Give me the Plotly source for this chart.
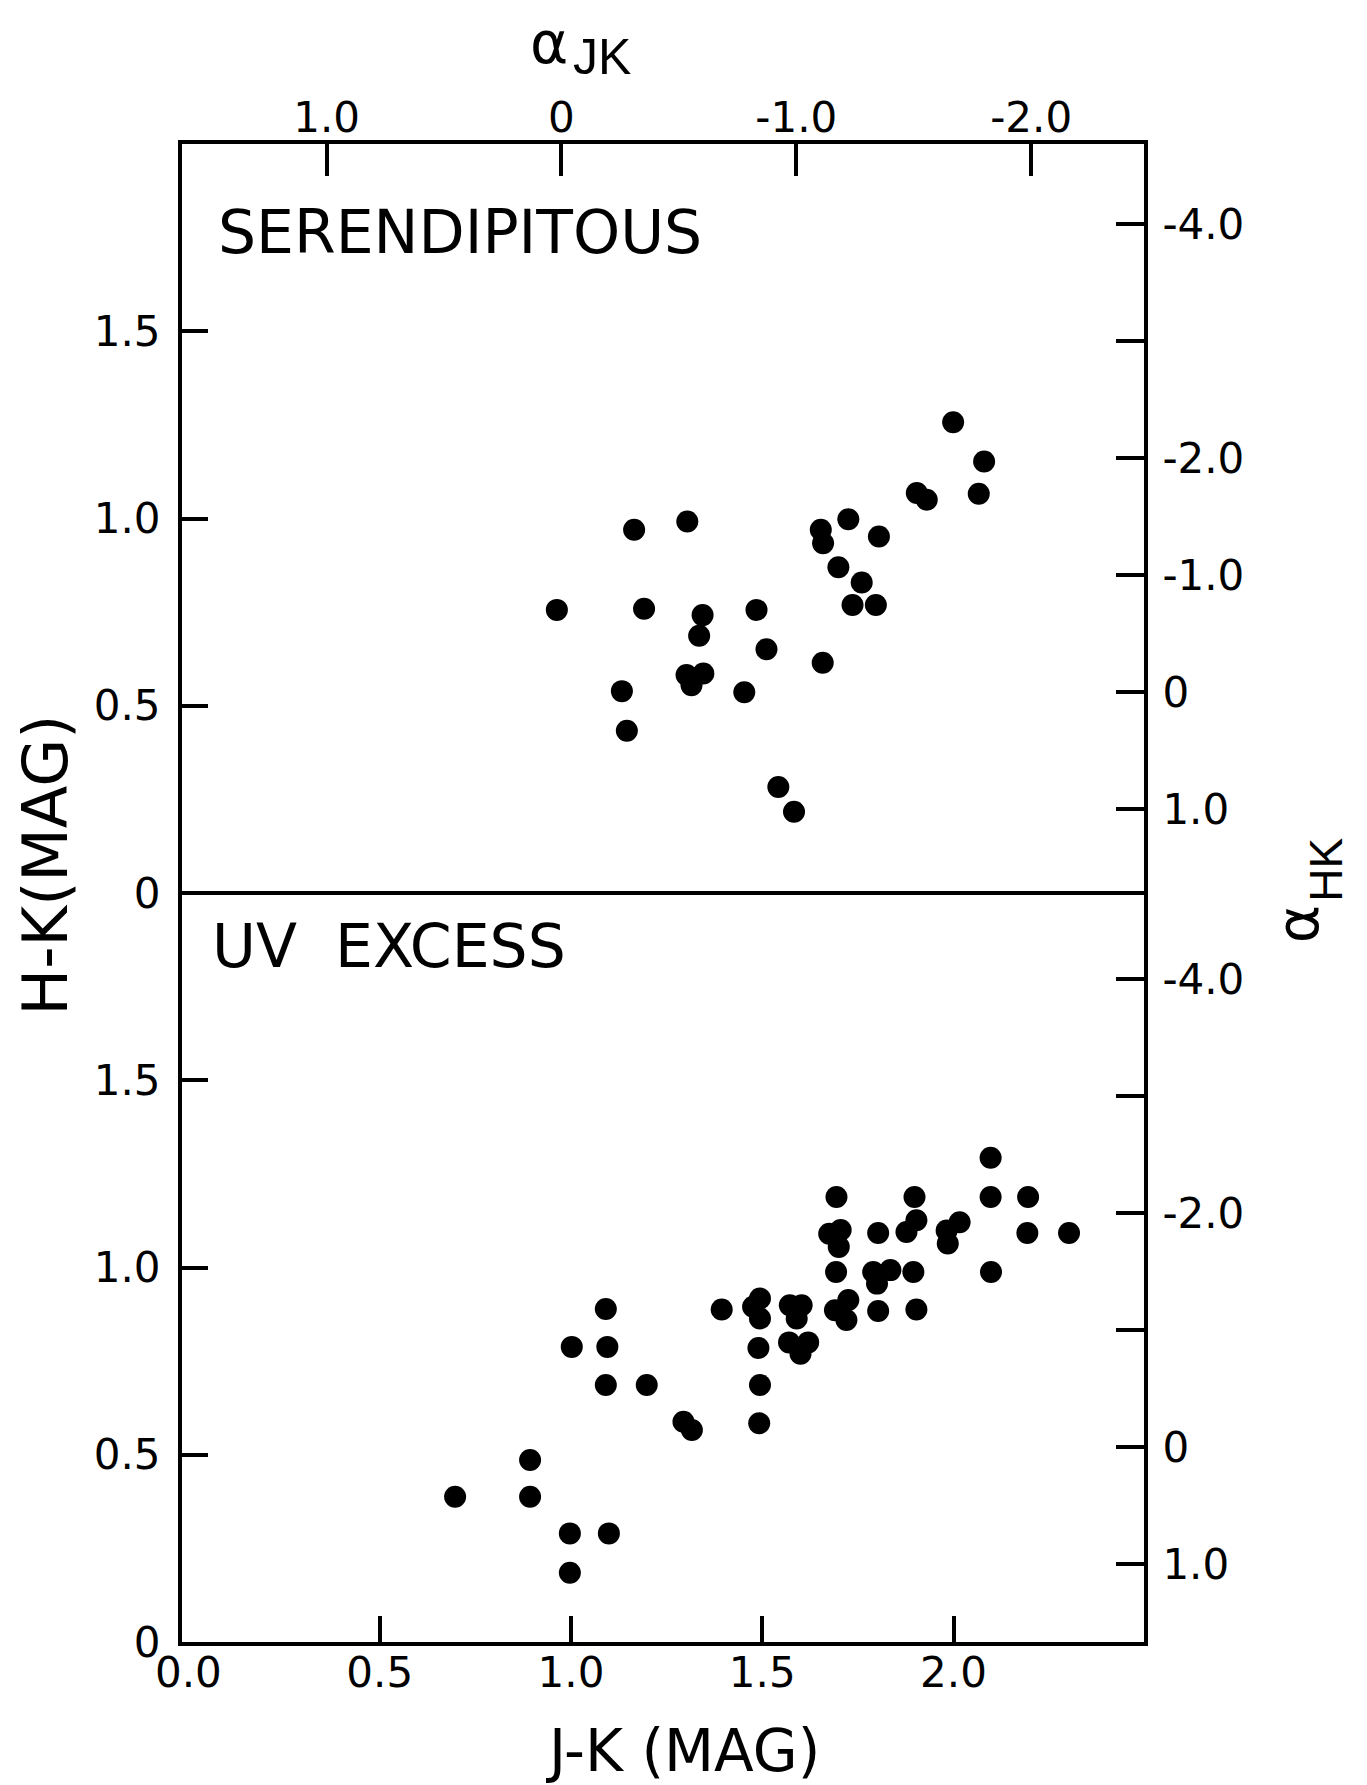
import plotly.graph_objects as go

# ---------------- data ----------------
# SERENDIPITOUS panel (J-K, H-K)
ser_jk = [0.963, 1.165, 1.191, 1.304, 1.133, 1.146, 1.344, 1.335, 1.302, 1.346,
          1.315, 1.485, 1.511, 1.453, 1.542, 1.583, 1.658, 1.653, 1.659, 1.725,
          1.699, 1.760, 1.805, 1.736, 1.797, 1.904, 1.930, 1.999, 2.080, 2.066]
ser_hk = [0.756, 0.970, 0.759, 0.992, 0.539, 0.433, 0.742, 0.687, 0.582, 0.586,
          0.555, 0.756, 0.651, 0.536, 0.283, 0.217, 0.615, 0.970, 0.934, 0.998,
          0.870, 0.829, 0.952, 0.769, 0.769, 1.068, 1.050, 1.257, 1.152, 1.066]

# UV EXCESS panel (J-K, H-K)
uv_jk = [0.697, 0.893, 0.893, 0.997, 1.099, 0.997, 1.091, 1.002, 1.095, 1.091,
         1.198, 1.294, 1.316, 1.394, 1.492, 1.494, 1.490, 1.476, 1.494, 1.494,
         1.572, 1.603, 1.590, 1.570, 1.600, 1.620, 1.690, 1.725, 1.720, 1.803,
         1.903, 1.693, 1.790, 1.835, 1.800, 1.895, 2.098, 1.694, 1.675, 1.705,
         1.700, 1.803, 1.877, 1.903, 1.898, 1.982, 2.016, 1.985, 2.097, 2.097,
         2.195, 2.193, 2.302]
uv_hk = [0.388, 0.486, 0.388, 0.290, 0.290, 0.185, 0.889, 0.788, 0.788, 0.686,
         0.686, 0.588, 0.566, 0.888, 0.584, 0.686, 0.785, 0.895, 0.917, 0.864,
         0.899, 0.899, 0.864, 0.800, 0.770, 0.800, 0.886, 0.913, 0.860, 0.884,
         0.888, 0.988, 0.988, 0.993, 0.957, 0.988, 0.988, 1.188, 1.090, 1.100,
         1.055, 1.092, 1.095, 1.126, 1.188, 1.099, 1.121, 1.064, 1.293, 1.188,
         1.188, 1.092, 1.092]

# axis tick values / labels
x_ticks = [0.5, 1.0, 1.5, 2.0]
x_ticklabels = ["0.5", "1.0", "1.5", "2.0"]
x_origin_label = "0.0"
y_ticks = [0.0, 0.5, 1.0, 1.5]
y_ticklabels = ["0", "0.5", "1.0", "1.5"]
ajk_ticks = [1.0, 0.0, -1.0, -2.0]
ajk_ticklabels = ["1.0", "0", "-1.0", "-2.0"]
ahk_top_ticks = [-4.0, -2.0, -1.0, 0.0, 1.0]
ahk_top_labels = ["-4.0", "-2.0", "-1.0", "0", "1.0"]
ahk_top_minor = [-3.0]
ahk_bot_ticks = [-4.0, -2.0, 0.0, 1.0]
ahk_bot_labels = ["-4.0", "-2.0", "0", "1.0"]
ahk_bot_minor = [-3.0, -1.0]

# colour-index relations (power law), J-K = c - 0.614 a ; H-K = c - 0.3124 a
JK_ZERO, JK_SLOPE = 0.975, 0.614
HK_ZERO_TOP, HK_ZERO_BOT, HK_SLOPE = 0.536, 0.520, 0.3124

X_RANGE = [-0.017, 2.498]
Y_RANGE = [0.0, 2.0]

FONT = "DejaVu Sans"
INK = "black"


def ajk(jk):
    return (JK_ZERO - jk) / JK_SLOPE


def ahk(hk, zero):
    return (zero - hk) / HK_SLOPE


fig = go.Figure()

marker = dict(color=INK, size=22, line=dict(width=0))
fig.add_trace(go.Scatter(x=ser_jk, y=ser_hk, mode="markers", marker=marker,
                         xaxis="x", yaxis="y2", showlegend=False, hoverinfo="skip"))
fig.add_trace(go.Scatter(x=uv_jk, y=uv_hk, mode="markers", marker=marker,
                         xaxis="x", yaxis="y", showlegend=False, hoverinfo="skip"))
# empty traces to register the secondary axes
fig.add_trace(go.Scatter(x=[], y=[], xaxis="x3", yaxis="y2", showlegend=False))
fig.add_trace(go.Scatter(x=[], y=[], xaxis="x", yaxis="y3", showlegend=False))
fig.add_trace(go.Scatter(x=[], y=[], xaxis="x", yaxis="y4", showlegend=False))

tickfont = dict(family=FONT, size=42, color=INK)
common = dict(showgrid=False, zeroline=False, showline=True, linecolor=INK,
              linewidth=4, ticks="inside", tickcolor=INK, tickwidth=4,
              tickfont=tickfont, tickmode="array")


def minor(vals, length):
    return dict(tickmode="array", tickvals=vals, ticks="inside", ticklen=length,
                tickwidth=4, tickcolor=INK, showgrid=False)


# the page body has an 8 px margin: plot area lands at x 182..1144, y 144..1642
fig.update_layout(
    width=1367, height=1785, autosize=False,
    margin=dict(l=174, r=231, t=136, b=151, pad=0),
    paper_bgcolor="white", plot_bgcolor="white",
    font=dict(family=FONT, color=INK),
    xaxis=dict(domain=[0, 1], anchor="y", range=X_RANGE, tickvals=x_ticks,
               ticktext=x_ticklabels, ticklen=26, ticklabelstandoff=-9, **common),
    yaxis=dict(domain=[0, 0.5], anchor="x", range=Y_RANGE, tickvals=y_ticks,
               ticktext=y_ticklabels, ticklen=26, ticklabelstandoff=9, **common),
    yaxis2=dict(domain=[0.5, 1], anchor="x", range=Y_RANGE, tickvals=y_ticks,
                ticktext=y_ticklabels, ticklen=26, ticklabelstandoff=9, **common),
    xaxis3=dict(overlaying="x", anchor="y2", side="top",
                range=[ajk(X_RANGE[0]), ajk(X_RANGE[1])], tickvals=ajk_ticks,
                ticktext=ajk_ticklabels, ticklen=32, ticklabelstandoff=-9, **common),
    yaxis3=dict(overlaying="y2", anchor="x", side="right",
                range=[ahk(Y_RANGE[0], HK_ZERO_TOP), ahk(Y_RANGE[1], HK_ZERO_TOP)],
                tickvals=ahk_top_ticks, ticktext=ahk_top_labels, ticklen=28,
                ticklabelstandoff=6, minor=minor(ahk_top_minor, 28), **common),
    yaxis4=dict(overlaying="y", anchor="x", side="right",
                range=[ahk(Y_RANGE[0], HK_ZERO_BOT), ahk(Y_RANGE[1], HK_ZERO_BOT)],
                tickvals=ahk_bot_ticks, ticktext=ahk_bot_labels, ticklen=28,
                ticklabelstandoff=6, minor=minor(ahk_bot_minor, 28), **common),
)

# divider between the two panels
fig.add_shape(type="line", xref="paper", yref="paper", x0=0, x1=1, y0=0.5, y1=0.5,
              line=dict(color=INK, width=4))

# "0.0" label at the origin of the J-K axis
fig.add_annotation(text=x_origin_label, xref="x", yref="paper", x=0.0, y=-0.0205,
                   xanchor="center", yanchor="middle", showarrow=False, font=tickfont)

big = dict(family=FONT, size=60, color=INK)
fig.add_annotation(text="SERENDIPITOUS", xref="paper", yref="paper", x=0.035, y=0.9415,
                   xanchor="left", yanchor="middle", showarrow=False, font=big)
fig.add_annotation(text="UV  EXCESS", xref="paper", yref="paper", x=0.029, y=0.4646,
                   xanchor="left", yanchor="middle", showarrow=False, font=big)
fig.add_annotation(text="J-K (MAG)", xref="paper", yref="paper", x=0.521, y=-0.0728,
                   xanchor="center", yanchor="middle", showarrow=False,
                   font=dict(family=FONT, size=58, color=INK))
fig.add_annotation(text="H-K(MAG)", xref="paper", yref="paper", x=-0.1419, y=0.5187,
                   xanchor="center", yanchor="middle", showarrow=False,
                   font=dict(family=FONT, size=62, color=INK), textangle=-90)
# alpha_JK (top axis title)
fig.add_annotation(text="α", xref="paper", yref="paper", x=0.3815, y=1.0674,
                   xanchor="center", yanchor="middle", showarrow=False,
                   font=dict(family=FONT, size=58, color=INK))
fig.add_annotation(text="JK", xref="paper", yref="paper", x=0.4040, y=1.0581,
                   xanchor="left", yanchor="middle", showarrow=False,
                   font=dict(family="Liberation Sans", size=50, color=INK))
# alpha_HK (right axis title)
fig.add_annotation(text="α", xref="paper", yref="paper", x=1.1596, y=0.4788,
                   xanchor="center", yanchor="middle", showarrow=False,
                   font=dict(family=FONT, size=58, color=INK), textangle=-90)
fig.add_annotation(text="HK", xref="paper", yref="paper", x=1.1892, y=0.5156,
                   xanchor="center", yanchor="middle", showarrow=False,
                   font=dict(family="Liberation Sans", size=46, color=INK), textangle=-90)

fig.write_html("out.html")
